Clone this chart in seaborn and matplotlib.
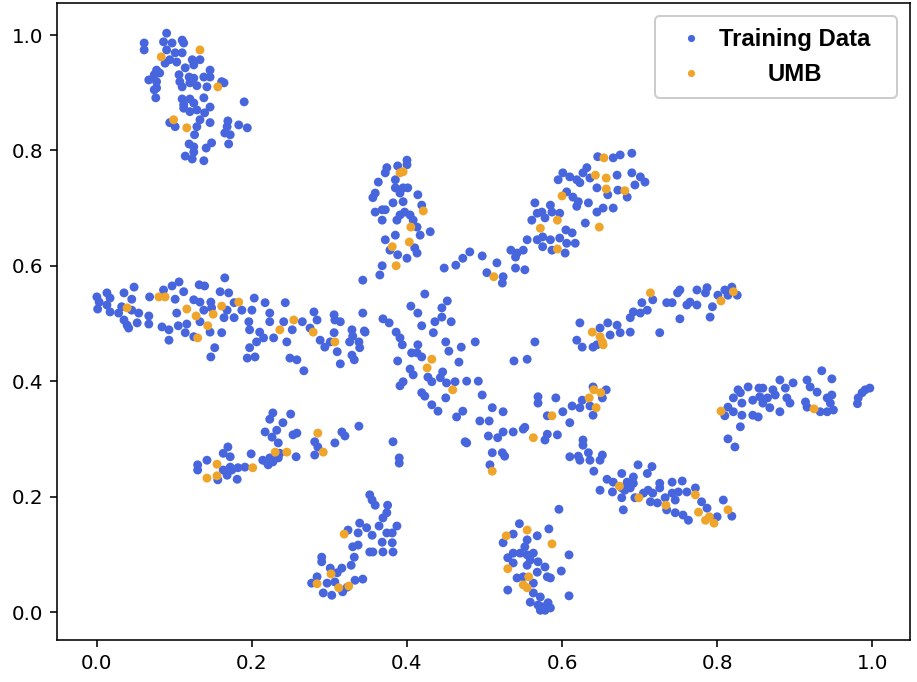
import matplotlib
matplotlib.use("Agg")
import matplotlib.pyplot as plt
import seaborn as sns
import pandas as pd

# ---- data ----
top_left = [(0.090,1.003),(0.061,0.986),(0.061,0.974),(0.086,0.988),(0.097,0.986),(0.110,0.991),(0.112,0.986),(0.090,0.974),(0.101,0.969),(0.110,0.969),(0.094,0.957),(0.103,0.953),(0.088,0.951),(0.123,0.957),(0.133,0.957),(0.125,0.948),(0.114,0.943),(0.146,0.939),(0.077,0.939),(0.081,0.934),(0.074,0.931),(0.106,0.931),(0.119,0.927),(0.125,0.925),(0.138,0.927),(0.146,0.927),(0.067,0.922),(0.077,0.919),(0.107,0.919),(0.120,0.917),(0.129,0.912),(0.142,0.910),(0.161,0.919),(0.164,0.917),(0.110,0.910),(0.077,0.908),(0.074,0.905),(0.076,0.891),(0.110,0.889),(0.120,0.889),(0.138,0.891),(0.190,0.884),(0.112,0.879),(0.125,0.882),(0.146,0.875),(0.112,0.873),(0.120,0.867),(0.129,0.870),(0.139,0.865),(0.094,0.848),(0.101,0.841),(0.133,0.853),(0.129,0.841),(0.146,0.848),(0.169,0.851),(0.168,0.841),(0.183,0.844),(0.194,0.839),(0.165,0.830),(0.172,0.827),(0.126,0.827),(0.119,0.811),(0.125,0.806),(0.148,0.813),(0.141,0.804),(0.170,0.811),(0.114,0.790),(0.123,0.785),(0.138,0.782),(0.125,0.797)]
left_band = [(0.0,0.546),(0.003,0.537),(0.001,0.525),(0.013,0.553),(0.017,0.544),(0.013,0.532),(0.017,0.520),(0.035,0.553),(0.048,0.563),(0.045,0.542),(0.032,0.529),(0.028,0.518),(0.045,0.523),(0.054,0.518),(0.035,0.506),(0.039,0.497),(0.052,0.501),(0.041,0.492),(0.067,0.513),(0.067,0.499),(0.084,0.494),(0.093,0.489),(0.093,0.471),(0.068,0.546),(0.086,0.558),(0.097,0.565),(0.106,0.572),(0.101,0.542),(0.112,0.555),(0.103,0.518),(0.105,0.496),(0.116,0.499),(0.114,0.484),(0.125,0.477),(0.132,0.567),(0.139,0.565),(0.125,0.541),(0.133,0.537),(0.138,0.523),(0.133,0.503),(0.147,0.537),(0.148,0.527),(0.146,0.485),(0.159,0.555),(0.165,0.579),(0.170,0.553),(0.168,0.523),(0.164,0.510),(0.161,0.484),(0.177,0.536),(0.177,0.510),(0.187,0.523),(0.203,0.544),(0.200,0.523),(0.196,0.503),(0.197,0.489),(0.210,0.485),(0.215,0.475),(0.206,0.468),(0.197,0.458),(0.194,0.440),(0.204,0.442),(0.152,0.458),(0.147,0.442),(0.217,0.536),(0.223,0.518),(0.223,0.503),(0.228,0.475),(0.243,0.536),(0.241,0.503),(0.245,0.468),(0.252,0.489),(0.249,0.440),(0.258,0.437),(0.265,0.503),(0.267,0.418),(0.280,0.520),(0.284,0.506),(0.275,0.492),(0.288,0.471),(0.294,0.459),(0.306,0.515),(0.307,0.506),(0.314,0.503),(0.306,0.484),(0.310,0.451),(0.301,0.468),(0.314,0.430),(0.329,0.489),(0.330,0.478),(0.326,0.468),(0.338,0.468),(0.339,0.458),(0.329,0.445),(0.332,0.437),(0.343,0.518),(0.345,0.487),(0.343,0.575)]
upper_mid = [(0.400,0.783),(0.400,0.775),(0.388,0.773),(0.374,0.770),(0.372,0.761),(0.385,0.749),(0.363,0.745),(0.385,0.735),(0.395,0.735),(0.401,0.735),(0.359,0.726),(0.356,0.718),(0.391,0.726),(0.414,0.723),(0.395,0.711),(0.382,0.709),(0.419,0.705),(0.359,0.693),(0.368,0.697),(0.372,0.697),(0.397,0.693),(0.404,0.688),(0.391,0.688),(0.368,0.679),(0.387,0.679),(0.408,0.679),(0.413,0.667),(0.417,0.653),(0.430,0.659),(0.385,0.653),(0.372,0.645),(0.410,0.631),(0.378,0.627),(0.413,0.622),(0.388,0.619),(0.400,0.613),(0.368,0.600),(0.365,0.584)]
upper_right = [(0.423,0.551),(0.448,0.596),(0.463,0.601),(0.472,0.613),(0.481,0.624),(0.497,0.617),(0.503,0.588),(0.516,0.605),(0.524,0.581),(0.523,0.570),(0.534,0.627),(0.540,0.615),(0.542,0.622),(0.550,0.627),(0.540,0.596),(0.552,0.593),(0.565,0.709),(0.561,0.679),(0.568,0.691),(0.574,0.693),(0.578,0.683),(0.555,0.645),(0.568,0.645),(0.575,0.650),(0.585,0.705),(0.587,0.693),(0.597,0.691),(0.585,0.645),(0.597,0.648),(0.575,0.633),(0.587,0.627),(0.604,0.622),(0.605,0.662),(0.613,0.657),(0.606,0.639),(0.617,0.639),(0.601,0.761),(0.595,0.749),(0.610,0.754),(0.619,0.749),(0.627,0.761),(0.632,0.770),(0.623,0.744),(0.606,0.728),(0.614,0.719),(0.621,0.711),(0.619,0.703),(0.636,0.752),(0.630,0.674),(0.634,0.709),(0.645,0.735),(0.645,0.693),(0.653,0.700),(0.666,0.700),(0.646,0.789),(0.666,0.787),(0.675,0.792),(0.690,0.795),(0.659,0.723),(0.671,0.757),(0.672,0.731),(0.684,0.719),(0.690,0.761),(0.694,0.740),(0.701,0.754),(0.707,0.745)]
right_band = [(0.703,0.536),(0.717,0.541),(0.692,0.520),(0.701,0.518),(0.688,0.510),(0.710,0.523),(0.735,0.536),(0.742,0.536),(0.749,0.553),(0.752,0.558),(0.752,0.508),(0.761,0.532),(0.765,0.537),(0.774,0.532),(0.774,0.558),(0.785,0.553),(0.787,0.562),(0.794,0.529),(0.791,0.511),(0.801,0.549),(0.810,0.558),(0.814,0.549),(0.819,0.563),(0.826,0.549),(0.726,0.484),(0.688,0.485),(0.675,0.484),(0.671,0.497),(0.659,0.501),(0.649,0.492),(0.662,0.480),(0.623,0.501),(0.619,0.471),(0.626,0.459),(0.640,0.459),(0.645,0.463)]
far_right = [(0.935,0.418),(0.948,0.404),(0.916,0.402),(0.898,0.397),(0.881,0.402),(0.920,0.390),(0.929,0.381),(0.942,0.371),(0.948,0.376),(0.888,0.388),(0.872,0.385),(0.875,0.376),(0.859,0.388),(0.854,0.388),(0.840,0.390),(0.855,0.373),(0.865,0.371),(0.890,0.371),(0.894,0.362),(0.881,0.347),(0.868,0.354),(0.859,0.362),(0.846,0.367),(0.832,0.362),(0.830,0.380),(0.821,0.371),(0.827,0.385),(0.814,0.355),(0.821,0.347),(0.832,0.341),(0.810,0.340),(0.846,0.341),(0.853,0.338),(0.830,0.321),(0.814,0.300),(0.823,0.286),(0.916,0.355),(0.914,0.364),(0.933,0.347),(0.942,0.347),(0.950,0.350),(0.946,0.362),(0.987,0.380),(0.991,0.385),(0.997,0.388),(0.982,0.371),(0.981,0.361)]
lower_right = [(0.698,0.255),(0.716,0.252),(0.710,0.240),(0.677,0.240),(0.692,0.234),(0.658,0.230),(0.666,0.225),(0.684,0.225),(0.692,0.223),(0.649,0.211),(0.665,0.208),(0.681,0.211),(0.688,0.215),(0.677,0.198),(0.694,0.198),(0.705,0.206),(0.711,0.211),(0.717,0.206),(0.726,0.223),(0.726,0.215),(0.714,0.191),(0.723,0.189),(0.733,0.198),(0.742,0.225),(0.755,0.227),(0.742,0.206),(0.750,0.208),(0.746,0.194),(0.761,0.208),(0.772,0.215),(0.780,0.191),(0.787,0.180),(0.735,0.177),(0.746,0.172),(0.756,0.168),(0.763,0.159),(0.800,0.165),(0.808,0.194),(0.819,0.166),(0.679,0.177),(0.677,0.215)]
mid_right = [(0.569,0.373),(0.569,0.362),(0.592,0.371),(0.581,0.340),(0.601,0.347),(0.610,0.328),(0.613,0.357),(0.623,0.354),(0.626,0.367),(0.640,0.390),(0.657,0.385),(0.652,0.371),(0.640,0.341),(0.636,0.357),(0.581,0.308),(0.594,0.307),(0.578,0.298),(0.627,0.298),(0.627,0.289),(0.610,0.269),(0.621,0.270),(0.623,0.263),(0.634,0.276),(0.636,0.263),(0.652,0.272),(0.649,0.263),(0.641,0.244),(0.596,0.178)]
center = [(0.452,0.539),(0.445,0.527),(0.405,0.530),(0.414,0.518),(0.369,0.508),(0.377,0.501),(0.346,0.485),(0.419,0.496),(0.436,0.503),(0.445,0.511),(0.457,0.503),(0.386,0.485),(0.434,0.484),(0.391,0.475),(0.394,0.463),(0.414,0.463),(0.450,0.468),(0.488,0.468),(0.470,0.459),(0.454,0.452),(0.406,0.449),(0.413,0.449),(0.419,0.442),(0.388,0.435),(0.467,0.433),(0.404,0.421),(0.408,0.411),(0.427,0.407),(0.432,0.399),(0.446,0.416),(0.443,0.406),(0.451,0.397),(0.462,0.399),(0.477,0.400),(0.492,0.400),(0.395,0.399),(0.391,0.392),(0.419,0.380),(0.423,0.374),(0.450,0.371),(0.497,0.376),(0.432,0.359),(0.440,0.348),(0.472,0.348),(0.464,0.338),(0.510,0.354),(0.524,0.347),(0.494,0.331),(0.506,0.331),(0.524,0.312),(0.537,0.312),(0.550,0.317),(0.552,0.320),(0.505,0.305),(0.517,0.302),(0.475,0.295),(0.477,0.293),(0.382,0.295),(0.390,0.267),(0.390,0.258),(0.338,0.322),(0.510,0.276),(0.523,0.276),(0.526,0.270),(0.507,0.255),(0.538,0.435),(0.555,0.438),(0.565,0.468)]
lower_left = [(0.130,0.255),(0.130,0.246),(0.142,0.263),(0.156,0.229),(0.163,0.275),(0.169,0.286),(0.172,0.269),(0.163,0.246),(0.168,0.237),(0.174,0.246),(0.182,0.250),(0.181,0.230),(0.172,0.251),(0.191,0.251),(0.199,0.274),(0.214,0.263),(0.219,0.260),(0.223,0.267),(0.227,0.260),(0.221,0.255),(0.234,0.267),(0.236,0.275),(0.257,0.269),(0.217,0.312),(0.226,0.303),(0.223,0.334),(0.227,0.345),(0.232,0.315),(0.240,0.328),(0.234,0.293),(0.250,0.343),(0.253,0.307),(0.258,0.310),(0.281,0.295),(0.285,0.286),(0.281,0.272),(0.307,0.293),(0.316,0.312),(0.320,0.305)]
lower_mid = [(0.352,0.203),(0.355,0.194),(0.359,0.185),(0.375,0.185),(0.374,0.172),(0.369,0.163),(0.364,0.149),(0.387,0.149),(0.339,0.154),(0.348,0.146),(0.337,0.137),(0.324,0.142),(0.355,0.133),(0.374,0.137),(0.381,0.137),(0.368,0.121),(0.381,0.120),(0.330,0.113),(0.337,0.116),(0.352,0.104),(0.356,0.104),(0.369,0.104),(0.382,0.104),(0.332,0.095),(0.290,0.095),(0.290,0.087),(0.328,0.081),(0.316,0.076),(0.301,0.076),(0.310,0.068),(0.284,0.061),(0.277,0.050),(0.297,0.050),(0.307,0.052),(0.292,0.033),(0.303,0.029),(0.317,0.035),(0.333,0.055),(0.343,0.057),(0.323,0.043)]
bottom = [(0.545,0.153),(0.537,0.135),(0.568,0.132),(0.583,0.144),(0.524,0.120),(0.555,0.125),(0.552,0.113),(0.609,0.099),(0.537,0.102),(0.546,0.102),(0.555,0.099),(0.563,0.102),(0.530,0.094),(0.559,0.090),(0.569,0.087),(0.537,0.085),(0.555,0.081),(0.578,0.078),(0.599,0.071),(0.568,0.069),(0.542,0.059),(0.550,0.061),(0.581,0.061),(0.585,0.059),(0.563,0.050),(0.530,0.038),(0.563,0.033),(0.572,0.026),(0.609,0.028),(0.559,0.017),(0.569,0.012),(0.575,0.009),(0.582,0.016),(0.585,0.007),(0.572,0.003),(0.578,0.003)]

umb_points = [(0.083,0.962),(0.133,0.974),(0.156,0.910),(0.099,0.853),(0.116,0.839),
              (0.039,0.527),(0.080,0.546),(0.088,0.546),(0.116,0.525),(0.130,0.475),(0.128,0.513),(0.143,0.496),(0.150,0.516),(0.161,0.530),(0.183,0.537),(0.236,0.489),(0.254,0.506),(0.279,0.485),(0.307,0.468),
              (0.391,0.761),(0.395,0.763),(0.421,0.695),(0.405,0.667),(0.403,0.641),(0.381,0.633),(0.386,0.600),
              (0.512,0.581),(0.572,0.665),(0.594,0.679),(0.594,0.629),(0.600,0.721),(0.643,0.757),(0.648,0.667),(0.654,0.787),(0.657,0.752),(0.657,0.733),(0.681,0.730),
              (0.714,0.553),(0.805,0.539),(0.821,0.555),(0.639,0.485),(0.649,0.477),(0.652,0.468),(0.653,0.463),
              (0.805,0.348),(0.925,0.352),
              (0.674,0.218),(0.699,0.198),(0.734,0.185),(0.772,0.203),(0.776,0.173),(0.785,0.159),(0.790,0.165),(0.796,0.154),(0.814,0.177),
              (0.587,0.340),(0.635,0.371),(0.641,0.385),(0.650,0.380),(0.644,0.354),
              (0.432,0.438),(0.426,0.423),(0.459,0.385),(0.563,0.302),(0.510,0.244),
              (0.142,0.232),(0.155,0.256),(0.155,0.236),(0.201,0.250),(0.230,0.277),(0.245,0.277),(0.285,0.310),(0.292,0.277),
              (0.319,0.135),(0.302,0.066),(0.284,0.049),(0.312,0.042),(0.325,0.045),
              (0.555,0.142),(0.528,0.132),(0.587,0.118),(0.530,0.075),(0.557,0.061),(0.550,0.047),(0.555,0.042)]

series_labels = ["Training Data", "UMB"]
series_colors = ["#4766de", "#eea52a"]

training = (top_left + left_band + upper_mid + upper_right + right_band + far_right
            + lower_right + mid_right + center + lower_left + lower_mid + bottom)

df = pd.DataFrame(
    [(x, y, series_labels[0]) for x, y in training]
    + [(x, y, series_labels[1]) for x, y in umb_points],
    columns=["x", "y", "group"],
)

fig, ax = plt.subplots(figsize=(6.4, 4.76), dpi=143.3)
fig.subplots_adjust(left=0.062, right=0.9924, top=0.9956, bottom=0.0616)

sns.scatterplot(data=df, x="x", y="y", hue="group", hue_order=series_labels,
                palette=dict(zip(series_labels, series_colors)),
                s=20, linewidth=0, alpha=1.0, ax=ax)

ax.set_xlim(-0.0516, 1.049)
ax.set_ylim(-0.0485, 1.0555)
ax.set_xlabel("")
ax.set_ylabel("")

old = ax.get_legend()
handles = old.legend_handles
labels = [t.get_text() for t in old.get_texts()]
old.remove()
for h in handles:
    try:
        h.set_markersize(3.6)
    except Exception:
        pass
leg = ax.legend(handles, labels, loc="upper right",
                prop=dict(family="Liberation Sans", weight="bold", size=12),
                framealpha=1.0, borderpad=0.5, borderaxespad=0.55)

fig.canvas.draw()
texts = leg.get_texts()
w0 = texts[0].get_window_extent().width
w1 = texts[1].get_window_extent().width
texts[0].set_x(-15)
texts[1].set_x(-15 + (w0 - w1) / 2)

fig.savefig("out.png", dpi=143.3)
